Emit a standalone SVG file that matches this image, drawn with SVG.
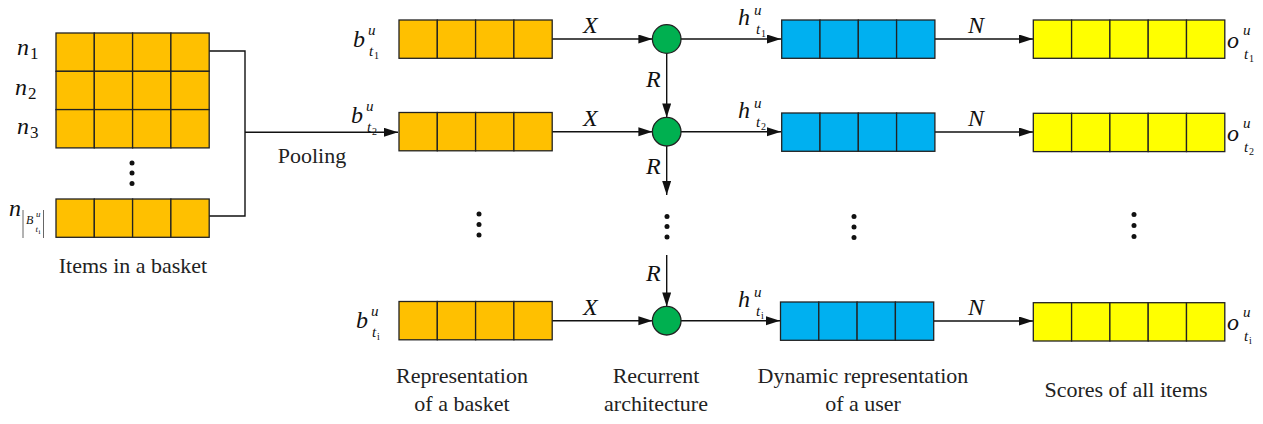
<svg xmlns="http://www.w3.org/2000/svg" width="1263" height="424" viewBox="0 0 1263 424" font-family="Liberation Serif, Times New Roman, DejaVu Serif, Noto Serif, serif">
<style>
.cell{stroke:#222;stroke-width:1.3}
.or{fill:#FFC000}
.bl{fill:#00B0F0}
.ye{fill:#FFFF00}
.node{fill:#00B050;stroke:#222;stroke-width:1.3}
.ln{fill:none;stroke:#111;stroke-width:1.4}
.arr{fill:none;stroke:#111;stroke-width:1.4;marker-end:url(#ah)}
.txt{font-size:22px;fill:#222;text-anchor:middle}
.m{font-style:italic;font-size:24px;fill:#111}
.sup{font-style:italic;font-size:15px;fill:#111}
.sub{font-style:italic;font-size:15px;fill:#111}
.ss{font-size:10px;fill:#111}
.nsub{font-size:17px;fill:#111}
.dot{fill:#111}
</style>
<defs>
<marker id="ah" markerUnits="userSpaceOnUse" markerWidth="15" markerHeight="10" refX="14" refY="4.5" orient="auto">
<path d="M0,0 L14,4.5 L0,9 z" fill="#111"/>
</marker>
<g id="r4or">
<rect class="cell or" x="0" y="0" width="38.3" height="38.3"/>
<rect class="cell or" x="38.3" y="0" width="38.3" height="38.3"/>
<rect class="cell or" x="76.6" y="0" width="38.3" height="38.3"/>
<rect class="cell or" x="114.9" y="0" width="38.3" height="38.3"/>
</g>
<g id="r4bl">
<rect class="cell bl" x="0" y="0" width="38.3" height="38.3"/>
<rect class="cell bl" x="38.3" y="0" width="38.3" height="38.3"/>
<rect class="cell bl" x="76.6" y="0" width="38.3" height="38.3"/>
<rect class="cell bl" x="114.9" y="0" width="38.3" height="38.3"/>
</g>
<g id="r5ye">
<rect class="cell ye" x="0" y="0" width="38.3" height="38.3"/>
<rect class="cell ye" x="38.3" y="0" width="38.3" height="38.3"/>
<rect class="cell ye" x="76.6" y="0" width="38.3" height="38.3"/>
<rect class="cell ye" x="114.9" y="0" width="38.3" height="38.3"/>
<rect class="cell ye" x="153.2" y="0" width="38.3" height="38.3"/>
</g>
</defs>
<rect width="1263" height="424" fill="#fff"/>

<g id="connectors">
<polyline class="ln" points="209,51 245,51 245,216 209,216"/>
<line class="arr" x1="245" y1="132.3" x2="398" y2="132.3"/>
<line class="arr" x1="552" y1="39" x2="652.4" y2="39"/>
<line class="arr" x1="552" y1="131.7" x2="652.4" y2="131.7"/>
<line class="arr" x1="552" y1="320.7" x2="652.4" y2="320.7"/>
<line class="arr" x1="681" y1="39" x2="781" y2="39"/>
<line class="arr" x1="681" y1="131.7" x2="781" y2="131.7"/>
<line class="arr" x1="681" y1="320.7" x2="780" y2="320.7"/>
<line class="arr" x1="935" y1="39" x2="1033" y2="39"/>
<line class="arr" x1="935" y1="132" x2="1033" y2="132"/>
<line class="arr" x1="934" y1="321" x2="1033" y2="321"/>
<line class="arr" x1="666.7" y1="53.3" x2="666.7" y2="117.4"/>
<line class="arr" x1="666.7" y1="146" x2="666.7" y2="195"/>
<line class="arr" x1="666.7" y1="255" x2="666.7" y2="306.4"/>
<text class="m" x="583" y="33">X</text>
<text class="m" x="583" y="126">X</text>
<text class="m" x="583" y="315">X</text>
<text class="m" x="646" y="87">R</text>
<text class="m" x="646" y="174">R</text>
<text class="m" x="646" y="281">R</text>
<text class="m" x="968" y="33">N</text>
<text class="m" x="968" y="126">N</text>
<text class="m" x="968" y="315">N</text>
<text class="txt" x="312" y="163">Pooling</text>
</g>

<g id="basket-items">
<rect class="cell or" x="56" y="33" width="38.3" height="38.3"/>
<rect class="cell or" x="94.3" y="33" width="38.3" height="38.3"/>
<rect class="cell or" x="132.6" y="33" width="38.3" height="38.3"/>
<rect class="cell or" x="170.9" y="33" width="38.3" height="38.3"/>
<rect class="cell or" x="56" y="71.3" width="38.3" height="38.3"/>
<rect class="cell or" x="94.3" y="71.3" width="38.3" height="38.3"/>
<rect class="cell or" x="132.6" y="71.3" width="38.3" height="38.3"/>
<rect class="cell or" x="170.9" y="71.3" width="38.3" height="38.3"/>
<rect class="cell or" x="56" y="109.6" width="38.3" height="38.3"/>
<rect class="cell or" x="94.3" y="109.6" width="38.3" height="38.3"/>
<rect class="cell or" x="132.6" y="109.6" width="38.3" height="38.3"/>
<rect class="cell or" x="170.9" y="109.6" width="38.3" height="38.3"/>
<use href="#r4or" x="56" y="199"/>
<circle class="dot" cx="132" cy="163" r="2.5"/>
<circle class="dot" cx="132" cy="173" r="2.5"/>
<circle class="dot" cx="132" cy="183.5" r="2.5"/>
<text class="m" x="17" y="55">n</text><text class="nsub" x="30" y="59">1</text>
<text class="m" x="15" y="95">n</text><text class="nsub" x="28" y="99">2</text>
<text class="m" x="17" y="134">n</text><text class="nsub" x="30" y="138">3</text>
<text class="m" x="9" y="216">n</text>
<line x1="23" y1="210" x2="23" y2="238" stroke="#555" stroke-width="0.9"/>
<line x1="43.5" y1="210" x2="43.5" y2="238" stroke="#555" stroke-width="0.9"/>
<text class="sub" x="26" y="224" style="font-size:12px">B</text>
<text class="sub" x="36" y="217" style="font-size:9px">u</text>
<text class="sub" x="35.5" y="232" style="font-size:9px">t</text>
<text class="ss" x="38.5" y="234" style="font-size:7px">i</text>
<text class="txt" x="133" y="273">Items in a basket</text>
</g>

<g id="basket-rep">
<use href="#r4or" x="399" y="20"/>
<use href="#r4or" x="399" y="112.5"/>
<use href="#r4or" x="399" y="301.5"/>
<circle class="dot" cx="479" cy="214" r="2.5"/>
<circle class="dot" cx="479" cy="224.5" r="2.5"/>
<circle class="dot" cx="479" cy="235" r="2.5"/>
<text class="m" x="353" y="47">b</text><text class="sup" x="368" y="35">u</text><text class="sub" x="369" y="56">t</text><text class="ss" x="374" y="59">1</text>
<text class="m" x="351" y="123">b</text><text class="sup" x="366" y="111">u</text><text class="sub" x="367" y="132">t</text><text class="ss" x="372" y="135">2</text>
<text class="m" x="356" y="328">b</text><text class="sup" x="371" y="316">u</text><text class="sub" x="372" y="337">t</text><text class="ss" x="377" y="340">i</text>
<text class="txt" x="462" y="383">Representation</text>
<text class="txt" x="462" y="411">of a basket</text>
</g>

<g id="recurrent">
<circle class="node" cx="666.7" cy="39" r="14.3"/>
<circle class="node" cx="666.7" cy="131.7" r="14.3"/>
<circle class="node" cx="666.7" cy="320.7" r="14.3"/>
<circle class="dot" cx="667" cy="216.5" r="2.5"/>
<circle class="dot" cx="667" cy="226.5" r="2.5"/>
<circle class="dot" cx="667" cy="237" r="2.5"/>
<text class="txt" x="656" y="383">Recurrent</text>
<text class="txt" x="656" y="411">architecture</text>
</g>

<g id="user-rep">
<use href="#r4bl" x="781.7" y="20"/>
<use href="#r4bl" x="781.7" y="113"/>
<use href="#r4bl" x="780.5" y="302"/>
<circle class="dot" cx="854" cy="216.5" r="2.5"/>
<circle class="dot" cx="854" cy="227" r="2.5"/>
<circle class="dot" cx="854" cy="237.5" r="2.5"/>
<text class="m" x="738" y="25">h</text><text class="sup" x="754" y="15">u</text><text class="sub" x="756" y="34">t</text><text class="ss" x="761" y="37">1</text>
<text class="m" x="738" y="118">h</text><text class="sup" x="754" y="108">u</text><text class="sub" x="756" y="127">t</text><text class="ss" x="761" y="130">2</text>
<text class="m" x="738" y="307">h</text><text class="sup" x="754" y="297">u</text><text class="sub" x="756" y="316">t</text><text class="ss" x="761" y="319">i</text>
<text class="txt" x="863" y="383">Dynamic representation</text>
<text class="txt" x="863" y="411">of a user</text>
</g>

<g id="scores">
<use href="#r5ye" x="1033.3" y="20"/>
<use href="#r5ye" x="1033.3" y="113.3"/>
<use href="#r5ye" x="1033.3" y="302.7"/>
<circle class="dot" cx="1134" cy="214.5" r="2.5"/>
<circle class="dot" cx="1134" cy="225.5" r="2.5"/>
<circle class="dot" cx="1134" cy="236.5" r="2.5"/>
<text class="m" x="1227" y="48">o</text><text class="sup" x="1243" y="35">u</text><text class="sub" x="1244" y="59">t</text><text class="ss" x="1249" y="62">1</text>
<text class="m" x="1227" y="141">o</text><text class="sup" x="1243" y="128">u</text><text class="sub" x="1244" y="152">t</text><text class="ss" x="1249" y="155">2</text>
<text class="m" x="1227" y="330">o</text><text class="sup" x="1243" y="317">u</text><text class="sub" x="1244" y="341">t</text><text class="ss" x="1249" y="344">i</text>
<text class="txt" x="1126" y="397">Scores of all items</text>
</g>
</svg>
